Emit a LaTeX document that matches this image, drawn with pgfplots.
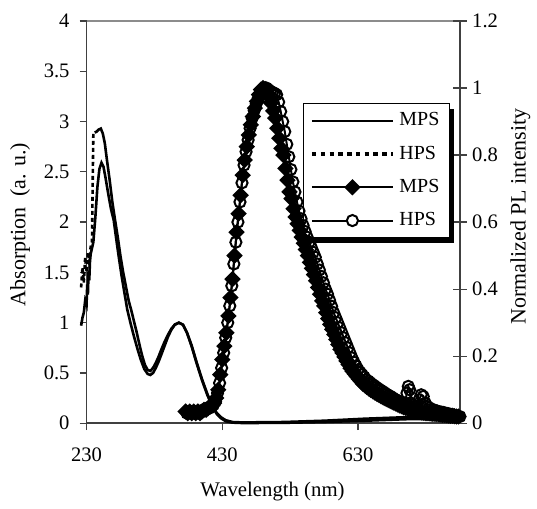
\documentclass[border=0pt]{standalone}
\usepackage{fontspec}
\setmainfont{Liberation Serif}
\usepackage{pgfplots}
\pgfplotsset{compat=1.18}

\definecolor{axline}{gray}{0.25}
\definecolor{framegray}{gray}{0.55}

\begin{document}
\begin{tikzpicture}
\pgfplotsset{
  every axis/.append style={
    scale only axis, width=187pt, height=201.5pt,
    xmin=230, xmax=780, clip=false,
    /pgf/number format/assume math mode=true,
    tick label style={font=\fontsize{10.3}{12}\selectfont},
    tick style={axline, line width=0.6pt},
    x axis line style={-}, y axis line style={-},
  }
}
% left axis: absorption
\begin{axis}[
  name=ax1,
  axis x line*=bottom, axis y line*=left,
  axis line style={axline, line width=0.8pt},
  ymin=0, ymax=4,
  xtick={230,430,630},
  ytick={0,0.5,1,1.5,2,2.5,3,3.5,4},
  tick align=outside,
  major tick length=3.5pt,
  xticklabel style={yshift=-5.5pt},
  yticklabel style={xshift=-1.5pt},
  xlabel={Wavelength (nm)},
  xlabel style={at={(axis description cs:0.498,-0.171)}, anchor=center, font=\fontsize{10.4}{12}\selectfont},
  ylabel={Absorption\hspace{0.5em}(a. u.)},
  ylabel style={at={(axis description cs:-0.178,0.494)}, anchor=center, font=\fontsize{11}{12}\selectfont},
]
\draw[framegray, line width=0.8pt] (rel axis cs:0,1) -- (rel axis cs:1,1);
% MPS absorption
\addplot[black, line width=1.3pt] coordinates {
(222,0.97) (224,1.05) (226,1.1) (228,1.22) (230,1.18) (231,1.38) (232,1.28) (233,1.52)
(234,1.42) (235,1.6) (236,1.68) (238,1.74) (240,1.8) (243,2.05) (246,2.35) (249,2.53)
(252,2.59) (255,2.55) (258,2.44) (262,2.28) (266,2.13) (270,2.02) (274,1.82) (278,1.63)
(282,1.45) (286,1.29) (290,1.13) (295,0.99) (300,0.86) (305,0.74) (310,0.63) (315,0.54)
(320,0.49) (324,0.48) (328,0.5) (332,0.55) (336,0.61) (340,0.68) (345,0.77) (350,0.86)
(355,0.93) (360,0.98) (366,1.0) (372,0.98) (378,0.9) (385,0.76) (392,0.6) (400,0.43)
(408,0.28) (415,0.17) (422,0.09) (428,0.05) (435,0.02) (445,0.006) (460,0.002) (520,0.004)
(580,0.012) (640,0.025) (700,0.04) (780,0.045)
};
% HPS absorption, sparse start (dashed)
\addplot[black, line width=1.3pt, dash pattern=on 2pt off 1.5pt] coordinates {
(222,1.35) (224,1.55) (226,1.4) (228,1.65) (230,1.5) (232,1.7) (234,1.6) (236,1.75)
(238,1.8) (239,2.35) (240,2.88) (242,2.89)
};
% HPS absorption
\addplot[black, line width=1.3pt] coordinates {
(242,2.89) (245,2.9) (248,2.92) (251,2.93) (254,2.88) (257,2.78) (260,2.62) (264,2.42)
(268,2.2) (272,2.02) (276,1.85) (280,1.66) (284,1.5) (288,1.36) (292,1.22) (296,1.12)
(300,1.01) (304,0.9) (308,0.78) (312,0.67) (316,0.58) (320,0.53) (324,0.52) (328,0.55)
(332,0.6) (336,0.66) (340,0.73) (345,0.81) (350,0.88) (355,0.94) (360,0.98) (366,1.0)
(372,0.98) (378,0.9) (385,0.77) (392,0.61) (400,0.44) (408,0.29) (415,0.18) (422,0.1)
(428,0.06) (435,0.03) (445,0.012) (460,0.008) (520,0.012) (580,0.025) (640,0.045)
(700,0.06) (780,0.06)
};
\end{axis}

% right axis: photoluminescence
\begin{axis}[
  axis x line=none, axis y line*=right,
  axis line style={axline, line width=0.8pt},
  ymin=0, ymax=1.2,
  ytick={0,0.2,0.4,0.6,0.8,1,1.2},
  tick align=center,
  major tick length=6.7pt,
  yticklabel style={xshift=-0.7pt},
  ylabel={Normalized PL intensity},
  ylabel style={at={(axis description cs:1.162,0.514)}, anchor=center, font=\fontsize{11}{12}\selectfont},
  legend image code/.code={\draw[mark repeat=2, mark phase=2, #1] plot coordinates {(0pt,0pt) (20.25pt,0pt) (40.5pt,0pt)};},
  legend style={at={(axis description cs:0.5806,0.7958)}, anchor=north west,
    draw=none, fill=none,
    inner xsep=3.35pt, inner ysep=0.3pt, row sep=0pt,
    font=\fontsize{10}{12}\selectfont,
    nodes={inner sep=0pt, minimum height=16.67pt},
    /tikz/every odd column/.append style={column sep=2.5pt}},
  legend cell align=left,
]
\addlegendimage{black, line width=1.2pt}
\addlegendentry{MPS}
\addlegendimage{black, line width=1.6pt, dash pattern=on 2.2pt off 2.2pt}
\addlegendentry{HPS}
\addlegendimage{black, line width=1pt, mark=square*, mark size=2.4pt, mark options={rotate=45, solid, fill=black}}
\addlegendentry{MPS}
\addlegendimage{black, line width=1pt, mark=*, mark size=2.8pt, mark options={solid, fill=white}}
\addlegendentry{HPS}
% MPS PL
\addplot[black, line width=1pt, mark=square*, mark size=2.4pt, mark options={rotate=45, solid, fill=black}, forget plot] coordinates {
(376,0.035) (379,0.03) (382,0.035) (385,0.03) (388,0.035) (391,0.03) (394,0.035) (397,0.03)
(400,0.035) (403,0.04) (406,0.04) (409,0.045) (412,0.05) (415,0.055) (418,0.06) (421,0.075)
(424,0.1) (427,0.145) (430,0.19) (433,0.23) (436,0.27) (439,0.32) (442,0.375) (445,0.43)
(448,0.5) (451,0.57) (454,0.625) (457,0.68) (460,0.74) (463,0.785) (466,0.825) (469,0.86)
(472,0.89) (475,0.915) (478,0.94) (481,0.96) (484,0.98) (487,0.995) (490,1.0) (493,0.997)
(496,0.985) (499,0.973) (502,0.955) (505,0.932) (508,0.91) (511,0.88) (514,0.85) (517,0.82)
(520,0.8) (523,0.76) (526,0.725) (529,0.69) (532,0.67) (535,0.64) (538,0.615) (541,0.595)
(544,0.575) (547,0.555) (550,0.537) (553,0.518) (556,0.5) (559,0.48) (562,0.462) (565,0.443)
(568,0.425) (571,0.405) (574,0.385) (577,0.365) (580,0.35) (583,0.33) (586,0.312) (589,0.295)
(592,0.28) (595,0.265) (598,0.25) (601,0.235) (604,0.22) (607,0.21) (610,0.198) (613,0.186)
(616,0.175) (619,0.164) (622,0.155) (625,0.147) (628,0.14) (631,0.132) (634,0.125) (637,0.118)
(640,0.113) (643,0.108) (646,0.103) (649,0.099) (652,0.095) (655,0.091) (658,0.087) (661,0.084)
(664,0.08) (667,0.077) (670,0.074) (673,0.071) (676,0.068) (679,0.065) (682,0.062) (685,0.059)
(688,0.056) (691,0.053) (694,0.051) (697,0.048) (700,0.046) (703,0.044) (706,0.042) (709,0.04)
(712,0.038) (715,0.036) (718,0.035) (721,0.034) (724,0.032) (727,0.031) (730,0.03) (733,0.03)
(736,0.029) (739,0.028) (742,0.028) (745,0.027) (748,0.027) (751,0.026) (754,0.025) (757,0.025)
(760,0.024) (763,0.023) (766,0.022) (769,0.022) (772,0.021) (775,0.02) (778,0.02)
};
% HPS PL
\addplot[black, line width=1pt, mark=o, mark size=2.8pt, mark options={solid}, forget plot] coordinates {
(378,0.03) (381,0.035) (384,0.03) (387,0.035) (390,0.03) (393,0.035) (396,0.03) (399,0.035)
(402,0.04) (405,0.04) (408,0.045) (411,0.045) (414,0.05) (417,0.055) (420,0.065) (423,0.09)
(426,0.12) (429,0.165) (432,0.21) (435,0.255) (438,0.3) (441,0.35) (444,0.41) (447,0.475)
(450,0.54) (453,0.6) (456,0.66) (459,0.717) (462,0.77) (465,0.81) (468,0.845) (471,0.88)
(474,0.91) (477,0.933) (480,0.953) (483,0.97) (486,0.985) (489,0.992) (492,0.998) (495,1.0)
(498,0.995) (501,0.99) (504,0.987) (507,0.984) (510,0.98) (513,0.958) (516,0.93) (519,0.9)
(522,0.87) (525,0.832) (528,0.795) (531,0.757) (534,0.72) (537,0.69) (540,0.66) (543,0.633)
(546,0.61) (549,0.59) (552,0.572) (555,0.555) (558,0.54) (561,0.525) (564,0.51) (567,0.495)
(570,0.475) (573,0.457) (576,0.438) (579,0.419) (582,0.4) (585,0.385) (588,0.367) (591,0.349)
(594,0.33) (597,0.315) (600,0.3) (603,0.285) (606,0.27) (609,0.255) (612,0.24) (615,0.225)
(618,0.21) (621,0.195) (624,0.182) (627,0.171) (630,0.16) (633,0.152) (636,0.145) (639,0.138)
(642,0.13) (645,0.126) (648,0.121) (651,0.116) (654,0.112) (657,0.107) (660,0.103) (663,0.099)
(666,0.095) (669,0.091) (672,0.087) (675,0.083) (678,0.08) (681,0.076) (684,0.072) (687,0.069)
(690,0.066) (693,0.063) (696,0.061) (699,0.06) (702,0.09) (704,0.11) (706,0.1) (708,0.06)
(711,0.055) (714,0.052) (717,0.05) (720,0.07) (723,0.085) (726,0.08) (729,0.06) (732,0.05)
(735,0.046) (738,0.042) (741,0.04) (744,0.038) (747,0.036) (750,0.034) (753,0.033) (756,0.032)
(759,0.03) (762,0.029) (765,0.027) (768,0.026) (771,0.024) (774,0.023) (777,0.021) (780,0.02)
};
% legend frame with its shadow, drawn over the curves
\fill[black] ([shift={(2.5pt,-3pt)}]axis description cs:0.5806,0.7958) rectangle +(73pt,-67.3pt);
\filldraw[fill=white, draw=black, line width=0.5pt] (axis description cs:0.5806,0.7958) rectangle +(73pt,-67.3pt);
\end{axis}
\path ([shift={(-43.35pt,-39.5pt)}]ax1.south west) rectangle ([shift={(38pt,10.5pt)}]ax1.north east);
\end{tikzpicture}
\end{document}
